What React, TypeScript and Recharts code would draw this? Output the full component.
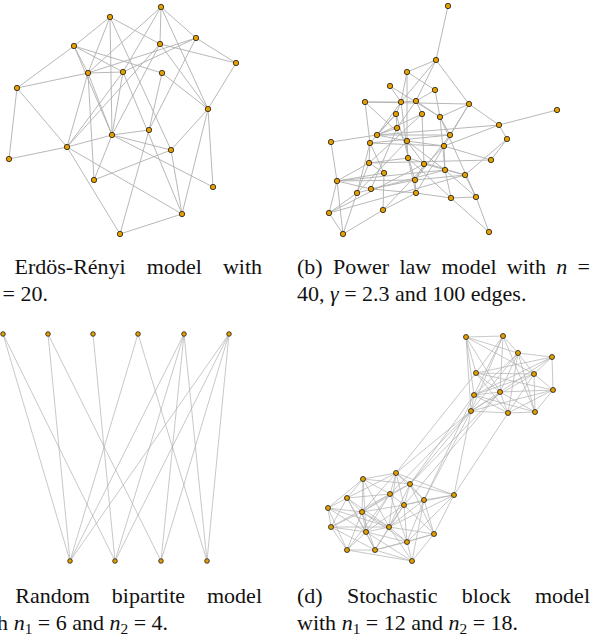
import { ScatterChart, Scatter, XAxis, YAxis, ReferenceLine } from 'recharts'

// node layouts (page pixels)
const erNodes: [number, number][] = [
  [161, 7], [110, 17], [196, 38], [74, 46], [160, 44], [236, 63], [88, 73], [123, 72], [162, 73], [17, 88],
  [208, 109], [112, 135], [149, 130], [67, 147], [171, 150], [9, 159], [94, 180], [213, 187], [182, 214], [120, 234],
]
const erEdges =
  '1-5 1-7 1-8 1-11 1-3 2-4 2-7 2-5 2-12 2-15 3-6 3-7 3-13 3-8 4-10 4-7 4-12 4-9 4-8 5-6 5-11 5-12 ' +
  '6-11 11-15 7-8 7-10 7-14 7-17 7-12 8-12 8-14 8-19 9-13 9-11 10-14 10-16 11-18 11-19 12-13 12-15 ' +
  '12-18 12-17 12-14 13-20 14-16 14-20 14-19 15-17 15-19 19-20 14-5'

const plNodes: [number, number][] = [
  [448, 6], [436, 60], [407, 72], [390, 86], [435, 90], [365, 102], [401, 102], [416, 101], [469, 104], [557, 110],
  [396, 114], [422, 114], [440, 117], [499, 125], [397, 128], [377, 135], [450, 135], [507, 139], [331, 142], [370, 143],
  [407, 141], [444, 146], [408, 158], [491, 160], [369, 163], [424, 164], [445, 170], [384, 173], [465, 175], [337, 181],
  [415, 180], [371, 189], [357, 193], [416, 193], [451, 198], [476, 197], [383, 210], [329, 213], [343, 234], [489, 232],
]
const plEdges =
  '1-2 2-3 2-7 2-8 2-9 3-5 3-7 3-21 4-7 4-13 5-13 5-8 6-7 6-9 6-20 6-21 7-8 7-11 7-16 7-23 8-12 8-13 8-15 ' +
  '9-13 9-14 9-17 9-22 10-14 11-15 11-20 11-16 11-31 12-25 12-26 13-17 13-27 13-36 14-18 14-22 14-16 15-16 ' +
  '16-19 15-32 16-17 16-21 17-20 17-31 18-24 18-29 19-30 20-25 20-22 20-28 20-33 21-22 21-23 21-26 21-27 ' +
  '21-33 22-24 22-27 22-34 22-37 23-25 23-29 23-34 23-35 24-25 25-30 25-33 25-28 26-29 26-31 26-38 27-35 ' +
  '27-36 27-30 28-37 28-30 29-36 29-31 29-38 30-31 30-32 30-38 30-39 31-32 31-34 32-34 33-38 33-39 33-27 ' +
  '34-35 34-37 35-36 35-40 36-40 37-39 38-39 12-16'

const bpNodes: [number, number][] = [
  [3, 334], [48, 334], [93, 334], [138, 334], [184, 334], [229, 334],
  [70, 561], [115, 561], [161, 561], [207, 561],
]
const bpEdges = '1-7 1-8 2-7 2-9 3-8 4-7 4-10 5-7 5-8 5-9 5-10 6-7 6-8 6-9 6-10'

const sbmTop: [number, number][] = [
  [466, 337], [503, 336], [518, 353], [552, 357], [476, 373], [534, 374],
  [553, 390], [500, 392], [474, 395], [471, 411], [508, 413], [535, 412],
]
const sbmBottom: [number, number][] = [
  [396, 473], [363, 479], [410, 484], [390, 494], [347, 498], [424, 500], [454, 495], [404, 505], [328, 508],
  [362, 512], [331, 527], [366, 532], [389, 527], [434, 534], [407, 542], [347, 550], [375, 550], [412, 561],
]
const sbmEdges =
  't0-t1 t0-t4 t0-t7 t0-t8 t0-t9 t0-t5 t0-t2 t1-t2 t1-t4 t1-t8 t1-t9 t1-t11 t1-t7 t2-t3 t2-t5 t2-t7 t2-t8 ' +
  't2-t10 t2-t11 t2-t9 t3-t4 t3-t5 t3-t6 t3-t7 t3-t8 t4-t5 t4-t6 t4-t7 t4-t10 t5-t6 t5-t8 t5-t9 t5-t10 t5-t11 ' +
  't6-t7 t6-t9 t6-t10 t6-t11 t7-t8 t7-t9 t7-t10 t7-t11 t8-t9 t8-t10 t8-t11 t9-t10 t10-t11 ' +
  'b0-b1 b0-b2 b0-b3 b0-b5 b0-b6 b0-b7 b0-b9 b0-b12 b0-b4 b1-b3 b1-b4 b1-b8 b1-b9 b1-b12 b1-b2 b1-b11 ' +
  'b2-b3 b2-b5 b2-b6 b2-b7 b2-b12 b2-b13 b2-b9 b3-b4 b3-b7 b3-b9 b3-b10 b3-b11 b3-b14 b3-b15 ' +
  'b4-b8 b4-b9 b4-b10 b4-b12 b4-b11 b4-b16 b5-b6 b5-b7 b5-b12 b5-b13 b5-b14 b5-b17 b6-b7 b6-b13 b6-b14 b6-b12 ' +
  'b7-b9 b7-b12 b7-b13 b7-b14 b7-b16 b7-b11 b8-b9 b8-b10 b8-b11 b8-b15 b8-b12 b9-b10 b9-b11 b9-b12 b9-b16 ' +
  'b9-b14 b9-b15 b10-b11 b10-b15 b10-b16 b10-b12 b11-b12 b11-b15 b11-b16 b11-b17 b11-b14 b12-b13 b12-b14 ' +
  'b12-b16 b12-b17 b13-b14 b13-b17 b13-b16 b14-b16 b14-b17 b15-b16 b15-b17 b16-b17 ' +
  'b0-t9 b0-t4 b2-t9 b2-t8 b3-t9 b5-t8 b5-t9 b6-t10 b6-t9 b7-t7 b2-t7'

type Pt = { x: number; y: number }

const toPts = (a: [number, number][]): Pt[] => a.map(([x, y]) => ({ x, y }))

function numbered(nodes: [number, number][], edges: string): [Pt, Pt][] {
  const p = toPts(nodes)
  return edges.trim().split(/\s+/).map((e) => {
    const [a, b] = e.split('-').map(Number)
    return [p[a - 1], p[b - 1]]
  })
}

function labelled(edges: string): [Pt, Pt][] {
  const look = (k: string) => {
    const arr = k[0] === 't' ? sbmTop : sbmBottom
    const [x, y] = arr[Number(k.slice(1))]
    return { x, y }
  }
  return edges.trim().split(/\s+/).map((e) => {
    const [a, b] = e.split('-')
    return [look(a), look(b)]
  })
}

interface GraphProps {
  nodes: Pt[]
  edges: [Pt, Pt][]
  left: number
  top: number
  width: number
  height: number
  r?: number
  edgeWidth?: number
}

function Graph({ nodes, edges, left, top, width, height, r = 2.7, edgeWidth = 0.9 }: GraphProps) {
  return (
    <div style={{ position: 'absolute', left, top }}>
      <ScatterChart width={width} height={height} margin={{ top: 0, right: 0, bottom: 0, left: 0 }}>
        <XAxis type="number" dataKey="x" domain={[left, left + width]} allowDataOverflow hide />
        <YAxis type="number" dataKey="y" domain={[top, top + height]} allowDataOverflow reversed hide />
        {edges.map((s, i) => (
          <ReferenceLine key={i} segment={s} stroke="#b0b0b0" strokeWidth={edgeWidth} ifOverflow="visible" />
        ))}
        <Scatter
          data={nodes}
          isAnimationActive={false}
          shape={(p: any) => (
            <circle cx={p.cx} cy={p.cy} r={r} fill="#e69f00" stroke="#1a1a1a" strokeWidth={0.8} />
          )}
        />
      </ScatterChart>
    </div>
  )
}

const capFont: React.CSSProperties = {
  position: 'absolute',
  width: 293,
  fontFamily: '"Liberation Serif", "Times New Roman", serif',
  fontSize: 22,
  lineHeight: '27px',
  color: '#111',
  whiteSpace: 'nowrap',
}
const justLine: React.CSSProperties = { textAlign: 'justify', textAlignLast: 'justify', whiteSpace: 'normal' }
const sub = (t: string) => <sub style={{ fontSize: '0.7em', lineHeight: 0, verticalAlign: '-0.25em' }}>{t}</sub>

export default function App() {
  return (
    <div style={{ position: 'absolute', left: 0, top: 0, width: 592, height: 637, overflow: 'hidden', background: '#fff' }}>
      <Graph nodes={toPts(erNodes)} edges={numbered(erNodes, erEdges)} left={0} top={0} width={250} height={245} />
      <Graph nodes={toPts(plNodes)} edges={numbered(plNodes, plEdges)} left={300} top={0} width={292} height={245} />
      <Graph nodes={toPts(bpNodes)} edges={numbered(bpNodes, bpEdges)} left={0} top={300} width={250} height={275} r={2.3} edgeWidth={0.7} />
      <Graph
        nodes={toPts([...sbmTop, ...sbmBottom])}
        edges={labelled(sbmEdges)}
        left={300}
        top={300}
        width={292}
        height={275}
        r={2.5}
        edgeWidth={0.7}
      />

      <div style={{ ...capFont, left: -31, top: 253 }}>
        <div style={justLine}>(a) Erdös-Rényi model with</div>
        <div style={{ paddingLeft: 17 }}><i>n</i> = 20.</div>
      </div>
      <div style={{ ...capFont, left: 297, top: 253 }}>
        <div style={justLine}>(b) Power law model with <i>n</i> =</div>
        <div>40, <i>γ</i> = 2.3 and 100 edges.</div>
      </div>
      <div style={{ ...capFont, left: -31, top: 582 }}>
        <div style={justLine}>(c) Random bipartite model</div>
        <div>with <i>n</i>{sub('1')} = 6 and <i>n</i>{sub('2')} = 4.</div>
      </div>
      <div style={{ ...capFont, left: 297, top: 582 }}>
        <div style={justLine}>(d) Stochastic block model</div>
        <div>with <i>n</i>{sub('1')} = 12 and <i>n</i>{sub('2')} = 18.</div>
      </div>
    </div>
  )
}
